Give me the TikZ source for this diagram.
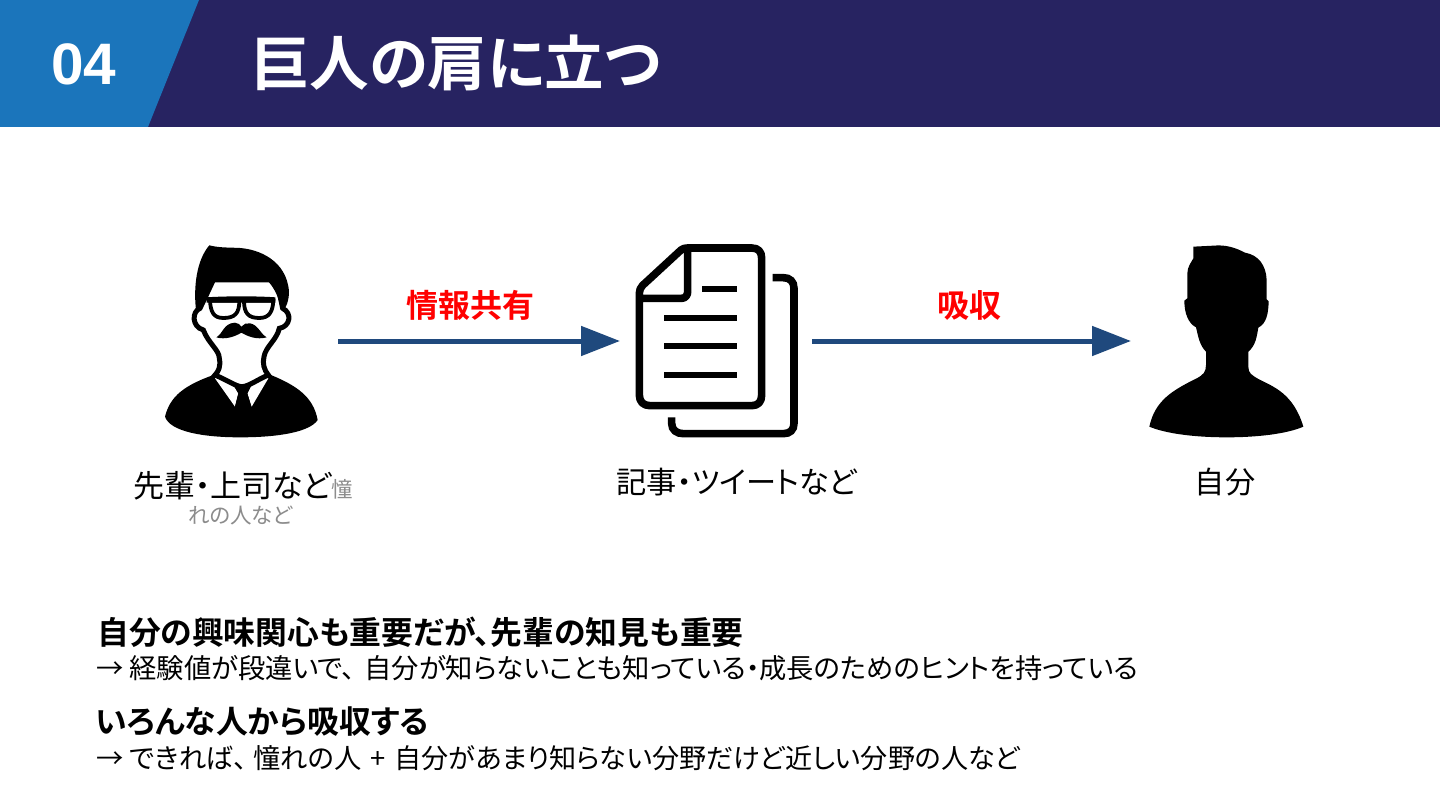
\documentclass[tikz,border=0pt]{standalone}
\usepackage{fontspec}
\setmainfont{Noto Sans CJK JP}[RawFeature={+palt}]
\newfontfamily\jpbold{Noto Sans CJK JP Bold}[RawFeature={+palt}]
\newfontfamily\latinbold{Liberation Sans Bold}
\usetikzlibrary{arrows.meta}
\definecolor{navy}{HTML}{272361}
\definecolor{blueband}{HTML}{1B75BB}
\definecolor{arrowblue}{HTML}{1F497D}
\definecolor{graytxt}{HTML}{8C8C8C}
\tikzset{
  flow/.style={draw=arrowblue,line width=5pt,-{Triangle[length=39pt,width=29pt]},shorten >=0pt},
  lbl/.style={inner sep=0pt,font=\fontsize{30.2}{34}\selectfont,anchor=base},
  redlbl/.style={inner sep=0pt,text=red,font=\fontsize{32}{36}\selectfont\jpbold,anchor=base},
  headl/.style={inner sep=0pt,anchor=base west,font=\fontsize{31.8}{36}\selectfont\jpbold},
  bodyl/.style={inner sep=0pt,anchor=base west,font=\fontsize{27.3}{30}\selectfont},
  icon/.style={x=0.33333pt,y=-0.33333pt},
  docline/.style={line width=6.3pt,line join=round}
}
\begin{document}
\begin{tikzpicture}[x=1pt,y=-1pt]
\useasboundingbox (0,0) rectangle (1440,810);
\fill[white] (0,0) rectangle (1440,810);
\fill[navy] (0,0) rectangle (1440,127);
\fill[blueband] (0,0) -- (199,0) -- (148,127) -- (0,127) -- cycle;
\node[inner sep=0pt,text=white,anchor=base,font=\fontsize{58.5}{60}\selectfont\latinbold] (num) at (84,85) {04};
\node[inner sep=0pt,text=white,anchor=base west,font=\fontsize{59.5}{64}\selectfont\jpbold] (title) at (250,86) {巨人の肩に立つ};
% left person
\begin{scope}[shift={(140,230)},icon]
\fill[black] (75,560) .. controls (90,500) and (130,465) .. (235,430) -- (380,430) .. controls (470,465) and (520,500) .. (533,570) .. controls (510,605) and (420,622) .. (300,622) .. controls (190,622) and (90,605) .. (75,560) -- cycle;
\fill[white] (225,445) -- (245,435) -- (290,460) -- (320,460) -- (365,435) -- (385,445) -- (335,530) -- (322,490) -- (335,465) -- (280,465) -- (295,490) -- (285,530) -- cycle;
\fill[black] (280,465) -- (335,465) -- (322,490) -- (335,535) -- (305,560) -- (285,530) -- (295,490) -- cycle;
\fill[white,draw=black,line width=5pt] (180,235) .. controls (155,245) and (155,290) .. (190,300) .. controls (205,340) and (238,360) .. (238,385) .. controls (243,410) and (235,425) .. (225,435) .. controls (260,450) and (290,470) .. (305,470) .. controls (325,470) and (350,450) .. (385,435) .. controls (372,420) and (367,400) .. (372,380) .. controls (377,350) and (410,330) .. (418,295) .. controls (450,290) and (458,250) .. (428,235) -- (410,150) -- (220,150) -- cycle;
\fill[black] (168,240) .. controls (160,170) and (170,90) .. (208,46) .. controls (240,54) and (265,52) .. (300,54) .. controls (355,58) and (440,90) .. (447,185) .. controls (447,210) and (438,240) .. (425,240) .. controls (418,210) and (405,170) .. (375,145) .. controls (320,158) and (260,158) .. (220,143) .. controls (215,180) and (200,215) .. (180,243) -- cycle;
\fill[white,draw=black,line width=3.8pt] (210,212) -- (298,212) .. controls (298,250) and (285,264) .. (250,264) .. controls (220,264) and (212,245) .. (210,212) -- cycle;
\fill[white,draw=black,line width=3.8pt] (312,212) -- (400,212) .. controls (398,245) and (388,264) .. (358,264) .. controls (325,264) and (312,250) .. (312,212) -- cycle;
\fill[black] (200,202) .. controls (260,198) and (350,198) .. (406,202) -- (406,218) -- (200,218) -- cycle;
\fill[black] (229,322) .. controls (250,310) and (250,280) .. (285,278) .. controls (295,278) and (300,285) .. (304,290) .. controls (310,282) and (320,278) .. (330,280) .. controls (355,285) and (360,310) .. (380,322) .. controls (350,330) and (325,320) .. (304,308) .. controls (285,320) and (255,330) .. (229,322) -- cycle;
\end{scope}
% document
\begin{scope}[shift={(620,230)},icon]
\draw[black,line width=7.6pt,line join=round] (203,54) -- (395,54) .. controls (415,54) and (425,65) .. (425,85) -- (425,495) .. controls (425,515) and (415,527) .. (395,527) -- (90,527) .. controls (70,527) and (58,515) .. (58,495) -- (58,190) .. controls (58,180) and (62,172) .. (68,166) -- (183,60) .. controls (190,55) and (195,54) .. (203,54) -- (203,185) .. controls (203,197) and (195,205) .. (185,205) -- (58,205);
\draw[black,line width=7.6pt] (458,143) -- (490,143) .. controls (510,143) and (522,155) .. (522,175) -- (522,580) .. controls (522,600) and (510,611) .. (490,611) -- (190,611) .. controls (170,611) and (155,600) .. (155,580) -- (155,562);
\draw[black,docline] (246,178) -- (352,178);
\draw[black,docline] (132,264) -- (352,264);
\draw[black,docline] (132,349) -- (352,349);
\draw[black,docline] (132,434) -- (352,434);
\end{scope}
% right person
\begin{scope}[shift={(1130,230)},icon]
\fill[black] (190,50) -- (250,47) .. controls (290,43) and (320,55) .. (345,68) .. controls (385,75) and (408,105) .. (410,150) -- (410,208) -- (416,214) .. controls (415,250) and (410,280) .. (385,293) .. controls (380,320) and (378,345) .. (355,365) -- (355,410) .. controls (355,430) and (365,435) .. (385,447) .. controls (430,470) and (490,490) .. (520,590) .. controls (470,612) and (380,622) .. (290,622) .. controls (200,622) and (110,612) .. (58,590) .. controls (75,510) and (130,480) .. (200,445) .. controls (220,435) and (228,425) .. (228,405) -- (228,365) .. controls (208,345) and (205,320) .. (198,292) .. controls (175,280) and (163,250) .. (163,212) -- (172,205) -- (172,130) .. controls (172,110) and (185,95) .. (190,85) -- cycle;
\end{scope}
% connectors
\coordinate (a1s) at (338,341); \coordinate (a1e) at (620,341);
\coordinate (a2s) at (812,341); \coordinate (a2e) at (1131,341);
\draw[flow] (a1s) -- (a1e);
\draw[flow] (a2s) -- (a2e);
\node[redlbl] (share) at (470,317) {情報共有};
\node[redlbl] (absorb) at (969,317) {吸収};
\node[inner sep=0pt,anchor=base west,font=\fontsize{31}{34}\selectfont] (senpai) at (133,497) {先輩・上司など{\color{graytxt}\fontsize{21.5}{24}\selectfont 憧}};
\node[inner sep=0pt,anchor=base,text=graytxt,font=\fontsize{21.5}{24}\selectfont] (akogare) at (240.5,523.5) {れの人など};
\node[lbl] (doc) at (737,493) {記事・ツイートなど};
\node[lbl] (self) at (1225,493) {自分};
\node[headl] (h1) at (97,644) {自分の興味関心も重要だが、先輩の知見も重要};
\node[bodyl] (b1) at (96,678) {→ 経験値が段違いで、\hspace{9pt}自分が知らないことも知っている・成長のためのヒントを持っている};
\node[headl] (h2) at (95,733) {いろんな人から吸収する};
\node[bodyl] (b2) at (96,768) {→ できれば、\hspace{6pt}憧れの人\hspace{3pt} + \hspace{3pt}{\fontsize{27.1}{30}\selectfont 自分があまり知らない分野だけど近しい分野の人など}};
\end{tikzpicture}
\end{document}
